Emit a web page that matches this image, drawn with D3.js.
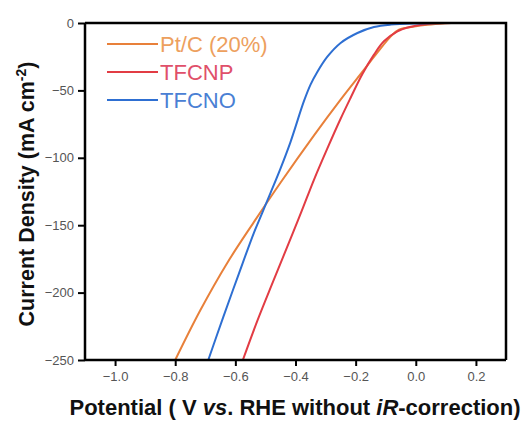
<!DOCTYPE html>
<html>
<head>
<meta charset="utf-8">
<script src="https://cdn.jsdelivr.net/npm/d3@7"></script>
<style>
  body { margin: 0; background: #fff; }
  svg { display: block; font-family: "Liberation Sans", Arial, sans-serif; }
  .tick text { fill: #555; font-size: 13px; }
</style>
</head>
<body>
<svg id="chart" width="530" height="421"></svg>
<script>
// series names and colours
var seriesNames = ["Pt/C (20%)", "TFCNP", "TFCNO"];
var lineColors = ["#e8803a", "#e23c44", "#2e6fd2"];
var textColors = ["#eda05e", "#e0506a", "#4a80d4"];

// potential (V vs RHE) and current density (mA cm-2)
var ptcV = [0.12, 0.08, 0.03, 0.0, -0.056, -0.083, -0.128, -0.172, -0.25, -0.339, -0.45, -0.539, -0.627, -0.717, -0.80];
var ptcJ = [0, -0.5, -1.5, -2.5, -5, -9.9, -22, -34.6, -56.8, -83.5, -118.5, -147.9, -178, -213.3, -250];

var tfcnpV = [0.12, 0.04, -0.02, -0.061, -0.106, -0.139, -0.178, -0.217, -0.25, -0.294, -0.339, -0.378, -0.411, -0.473, -0.527, -0.575];
var tfcnpJ = [0, -0.7, -3, -6.2, -13.6, -23.5, -38, -55.6, -71, -93, -116.5, -138.7, -157, -191, -221, -250];

var tfcnoV = [0.10, 0.0, -0.083, -0.139, -0.194, -0.25, -0.294, -0.328, -0.35, -0.372, -0.417, -0.45, -0.483, -0.511, -0.539, -0.59, -0.64, -0.69];
var tfcnoJ = [0, -0.3, -1.2, -3, -7.4, -14.8, -25, -36.5, -45.7, -58, -88.5, -108, -126, -141, -156, -187, -218, -250];

var xTicks = [-1.0, -0.8, -0.6, -0.4, -0.2, 0.0, 0.2];
var yTicks = [0, -50, -100, -150, -200, -250];

var svg = d3.select("#chart");
var plotLeft = 85, plotRight = 506, plotTop = 23, plotBottom = 360;

var x = d3.scaleLinear().domain([-1.1, 0.3]).range([plotLeft, plotRight]);
var y = d3.scaleLinear().domain([-250, 0]).range([plotBottom, plotTop]);

function pairs(vs, js) {
    return vs.map(function (v, i) { return [v, js[i]]; });
}
var series = [pairs(ptcV, ptcJ), pairs(tfcnpV, tfcnpJ), pairs(tfcnoV, tfcnoJ)];

var line = d3.line()
    .x(function (d) { return x(d[0]); })
    .y(function (d) { return y(d[1]); })
    .curve(d3.curveCatmullRom.alpha(0.5));

svg.append("g")
    .selectAll("path")
    .data(series)
    .enter()
    .append("path")
    .attr("d", line)
    .attr("fill", "none")
    .attr("stroke", function (d, i) { return lineColors[i]; })
    .attr("stroke-width", 2);

// frame
svg.append("path")
    .attr("d", "M" + plotLeft + "," + plotTop + "H" + plotRight + "V" + plotBottom)
    .attr("fill", "none")
    .attr("stroke", "#000")
    .attr("stroke-width", 2.5);

var xAxis = svg.append("g")
    .attr("transform", "translate(0," + plotBottom + ")")
    .call(d3.axisBottom(x).tickValues(xTicks).tickFormat(d3.format(".1f")).tickSize(6).tickPadding(6));
var yAxis = svg.append("g")
    .attr("transform", "translate(" + plotLeft + ",0)")
    .call(d3.axisLeft(y).tickValues(yTicks).tickSize(7).tickPadding(4));

[xAxis, yAxis].forEach(function (a) {
    a.select(".domain").attr("stroke", "#000").attr("stroke-width", 2.5);
    a.selectAll(".tick line").attr("stroke", "#000").attr("stroke-width", 2);
});
xAxis.select(".domain").attr("d", "M" + plotLeft + ",0H" + plotRight);
yAxis.select(".domain").attr("d", "M0," + plotBottom + "V" + plotTop);

// axis titles
svg.append("text")
    .attr("x", 295)
    .attr("y", 415)
    .attr("text-anchor", "middle")
    .attr("font-size", 22)
    .attr("font-weight", "bold")
    .attr("fill", "#111")
    .html('Potential ( V <tspan font-style="italic">vs</tspan>. RHE without <tspan font-style="italic">iR</tspan>-correction)');

svg.append("text")
    .attr("transform", "translate(34,194) rotate(-90)")
    .attr("text-anchor", "middle")
    .attr("font-size", 21.5)
    .attr("font-weight", "bold")
    .attr("fill", "#111")
    .html('Current Density (mA cm<tspan dy="-8" font-size="14">-2</tspan><tspan dy="8">)</tspan>');

// legend
var legend = svg.append("g")
    .selectAll("g")
    .data(seriesNames)
    .enter()
    .append("g")
    .attr("transform", function (d, i) { return "translate(107," + (44 + i * 28) + ")"; });

legend.append("line")
    .attr("x1", 0).attr("x2", 51)
    .attr("stroke", function (d, i) { return lineColors[i]; })
    .attr("stroke-width", 2);

legend.append("text")
    .attr("x", 53)
    .attr("dy", "0.35em")
    .attr("font-size", 22)
    .attr("fill", function (d, i) { return textColors[i]; })
    .text(function (d) { return d; });
</script>
</body>
</html>
